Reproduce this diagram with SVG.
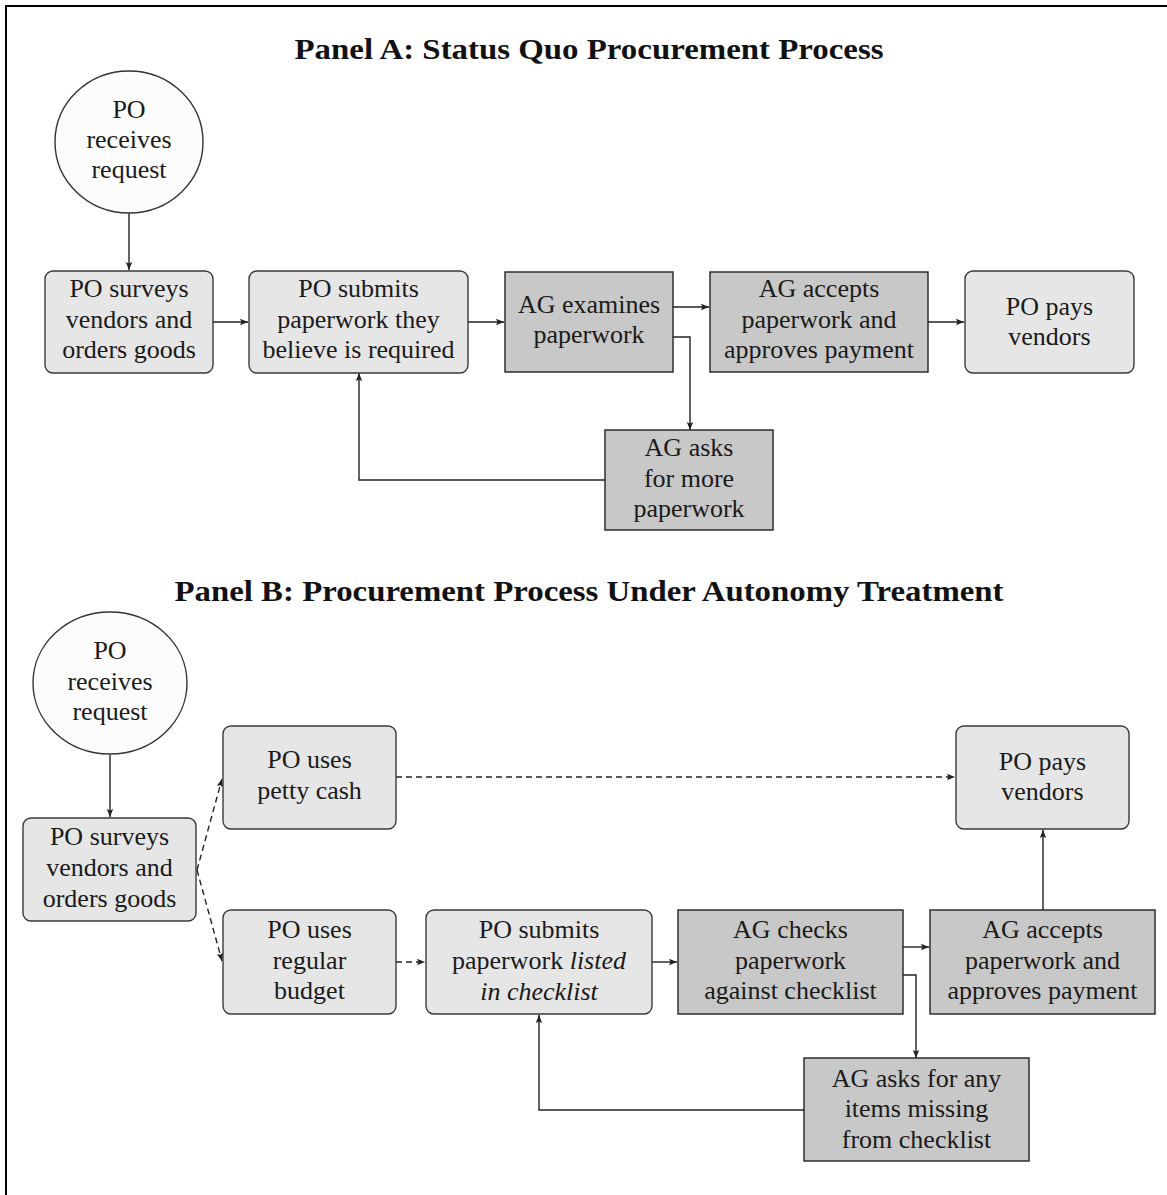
<svg xmlns="http://www.w3.org/2000/svg" width="1167" height="1195" viewBox="0 0 1167 1195">
<defs>
<marker id="ah" markerUnits="userSpaceOnUse" markerWidth="9" markerHeight="8" refX="8" refY="4" orient="auto">
<path d="M0,0.8 L8,4 L0,7.2 L1.5,4 z" fill="#222"/>
</marker>
<style>
.t{font-family:"Liberation Serif","Times New Roman",serif;font-size:26px;fill:#1a1a1a;text-anchor:middle}
.title{font-family:"Liberation Serif","Times New Roman",serif;font-size:29px;font-weight:bold;fill:#111;text-anchor:middle}
.lt{fill:#e6e6e6;stroke:#3a3a3a;stroke-width:1.4}
.dk{fill:#c8c8c8;stroke:#222;stroke-width:1.4}
.cir{fill:#fcfcfc;stroke:#333;stroke-width:1.4}
.c{fill:none;stroke:#222;stroke-width:1.4;marker-end:url(#ah)}
.cn{fill:none;stroke:#222;stroke-width:1.4}
.d{fill:none;stroke:#222;stroke-width:1.4;stroke-dasharray:6 4;marker-end:url(#ah)}
</style>
</defs>
<rect width="1167" height="1195" fill="#fff"/>
<path d="M6,1195 V6 H1167" fill="none" stroke="#000" stroke-width="2"/>

<text class="title" x="589" y="59" textLength="589" lengthAdjust="spacingAndGlyphs">Panel A: Status Quo Procurement Process</text>
<text class="title" x="589" y="601" textLength="829" lengthAdjust="spacingAndGlyphs">Panel B: Procurement Process Under Autonomy Treatment</text>

<g id="connectors">
<path class="c" d="M129,213 V270"/>
<path class="c" d="M213,322 H248"/>
<path class="c" d="M468,322 H504"/>
<path class="c" d="M673,307 H709"/>
<path class="c" d="M928,322 H964"/>
<path class="c" d="M673,337 H690 V430"/>
<path class="c" d="M605,480 H359 V373"/>

<path class="c" d="M110,755 V817"/>
<path class="d" d="M197,870 L222,779"/>
<path class="d" d="M197,870 L222,961"/>
<path class="d" d="M396,777 H955"/>
<path class="d" d="M396,962 H425"/>
<path class="c" d="M652,962 H677"/>
<path class="c" d="M903,947 H929"/>
<path class="c" d="M1043,910 V830"/>
<path class="c" d="M903,975 H916 V1058"/>
<path class="c" d="M804,1110 H539 V1015"/>
</g>

<g id="a-receives">
<ellipse class="cir" cx="129" cy="142" rx="74" ry="71"/>
<text class="t" x="129" y="118">PO</text>
<text class="t" x="129" y="148">receives</text>
<text class="t" x="129" y="178">request</text>
</g>
<g id="a-surveys">
<rect class="lt" x="45" y="271" width="168" height="102" rx="8"/>
<text class="t" x="129" y="297">PO surveys</text>
<text class="t" x="129" y="328">vendors and</text>
<text class="t" x="129" y="358">orders goods</text>
</g>
<g id="a-submits">
<rect class="lt" x="249" y="271" width="219" height="102" rx="8"/>
<text class="t" x="358.5" y="297">PO submits</text>
<text class="t" x="358.5" y="328">paperwork they</text>
<text class="t" x="358.5" y="358">believe is required</text>
</g>
<g id="a-examines">
<rect class="dk" x="505" y="272" width="168" height="100"/>
<text class="t" x="589" y="313">AG examines</text>
<text class="t" x="589" y="343">paperwork</text>
</g>
<g id="a-accepts">
<rect class="dk" x="710" y="272" width="218" height="100"/>
<text class="t" x="819" y="297">AG accepts</text>
<text class="t" x="819" y="328">paperwork and</text>
<text class="t" x="819" y="358">approves payment</text>
</g>
<g id="a-pays">
<rect class="lt" x="965" y="271" width="169" height="102" rx="8"/>
<text class="t" x="1049.5" y="315">PO pays</text>
<text class="t" x="1049.5" y="345">vendors</text>
</g>
<g id="a-asks">
<rect class="dk" x="605" y="430" width="168" height="100"/>
<text class="t" x="689" y="456">AG asks</text>
<text class="t" x="689" y="487">for more</text>
<text class="t" x="689" y="517">paperwork</text>
</g>

<g id="b-receives">
<ellipse class="cir" cx="110" cy="683" rx="77" ry="71"/>
<text class="t" x="110" y="659">PO</text>
<text class="t" x="110" y="690">receives</text>
<text class="t" x="110" y="720">request</text>
</g>
<g id="b-surveys">
<rect class="lt" x="23" y="818" width="173" height="103" rx="8"/>
<text class="t" x="109.5" y="845">PO surveys</text>
<text class="t" x="109.5" y="876">vendors and</text>
<text class="t" x="109.5" y="907">orders goods</text>
</g>
<g id="b-petty">
<rect class="lt" x="223" y="726" width="173" height="103" rx="8"/>
<text class="t" x="309.5" y="768">PO uses</text>
<text class="t" x="309.5" y="799">petty cash</text>
</g>
<g id="b-regular">
<rect class="lt" x="223" y="910" width="173" height="104" rx="8"/>
<text class="t" x="309.5" y="938">PO uses</text>
<text class="t" x="309.5" y="969">regular</text>
<text class="t" x="309.5" y="999">budget</text>
</g>
<g id="b-submits">
<rect class="lt" x="426" y="910" width="226" height="104" rx="8"/>
<text class="t" x="539" y="938">PO submits</text>
<text class="t" x="539" y="969">paperwork <tspan font-style="italic">listed</tspan></text>
<text class="t" x="539" y="1000" font-style="italic">in checklist</text>
</g>
<g id="b-checks">
<rect class="dk" x="678" y="910" width="225" height="104"/>
<text class="t" x="790.5" y="938">AG checks</text>
<text class="t" x="790.5" y="969">paperwork</text>
<text class="t" x="790.5" y="999">against checklist</text>
</g>
<g id="b-accepts">
<rect class="dk" x="930" y="910" width="225" height="104"/>
<text class="t" x="1042.5" y="938">AG accepts</text>
<text class="t" x="1042.5" y="969">paperwork and</text>
<text class="t" x="1042.5" y="999">approves payment</text>
</g>
<g id="b-pays">
<rect class="lt" x="956" y="726" width="173" height="103" rx="8"/>
<text class="t" x="1042.5" y="770">PO pays</text>
<text class="t" x="1042.5" y="800">vendors</text>
</g>
<g id="b-asks">
<rect class="dk" x="804" y="1058" width="225" height="103"/>
<text class="t" x="916.5" y="1087">AG asks for any</text>
<text class="t" x="916.5" y="1117">items missing</text>
<text class="t" x="916.5" y="1148">from checklist</text>
</g>
</svg>
